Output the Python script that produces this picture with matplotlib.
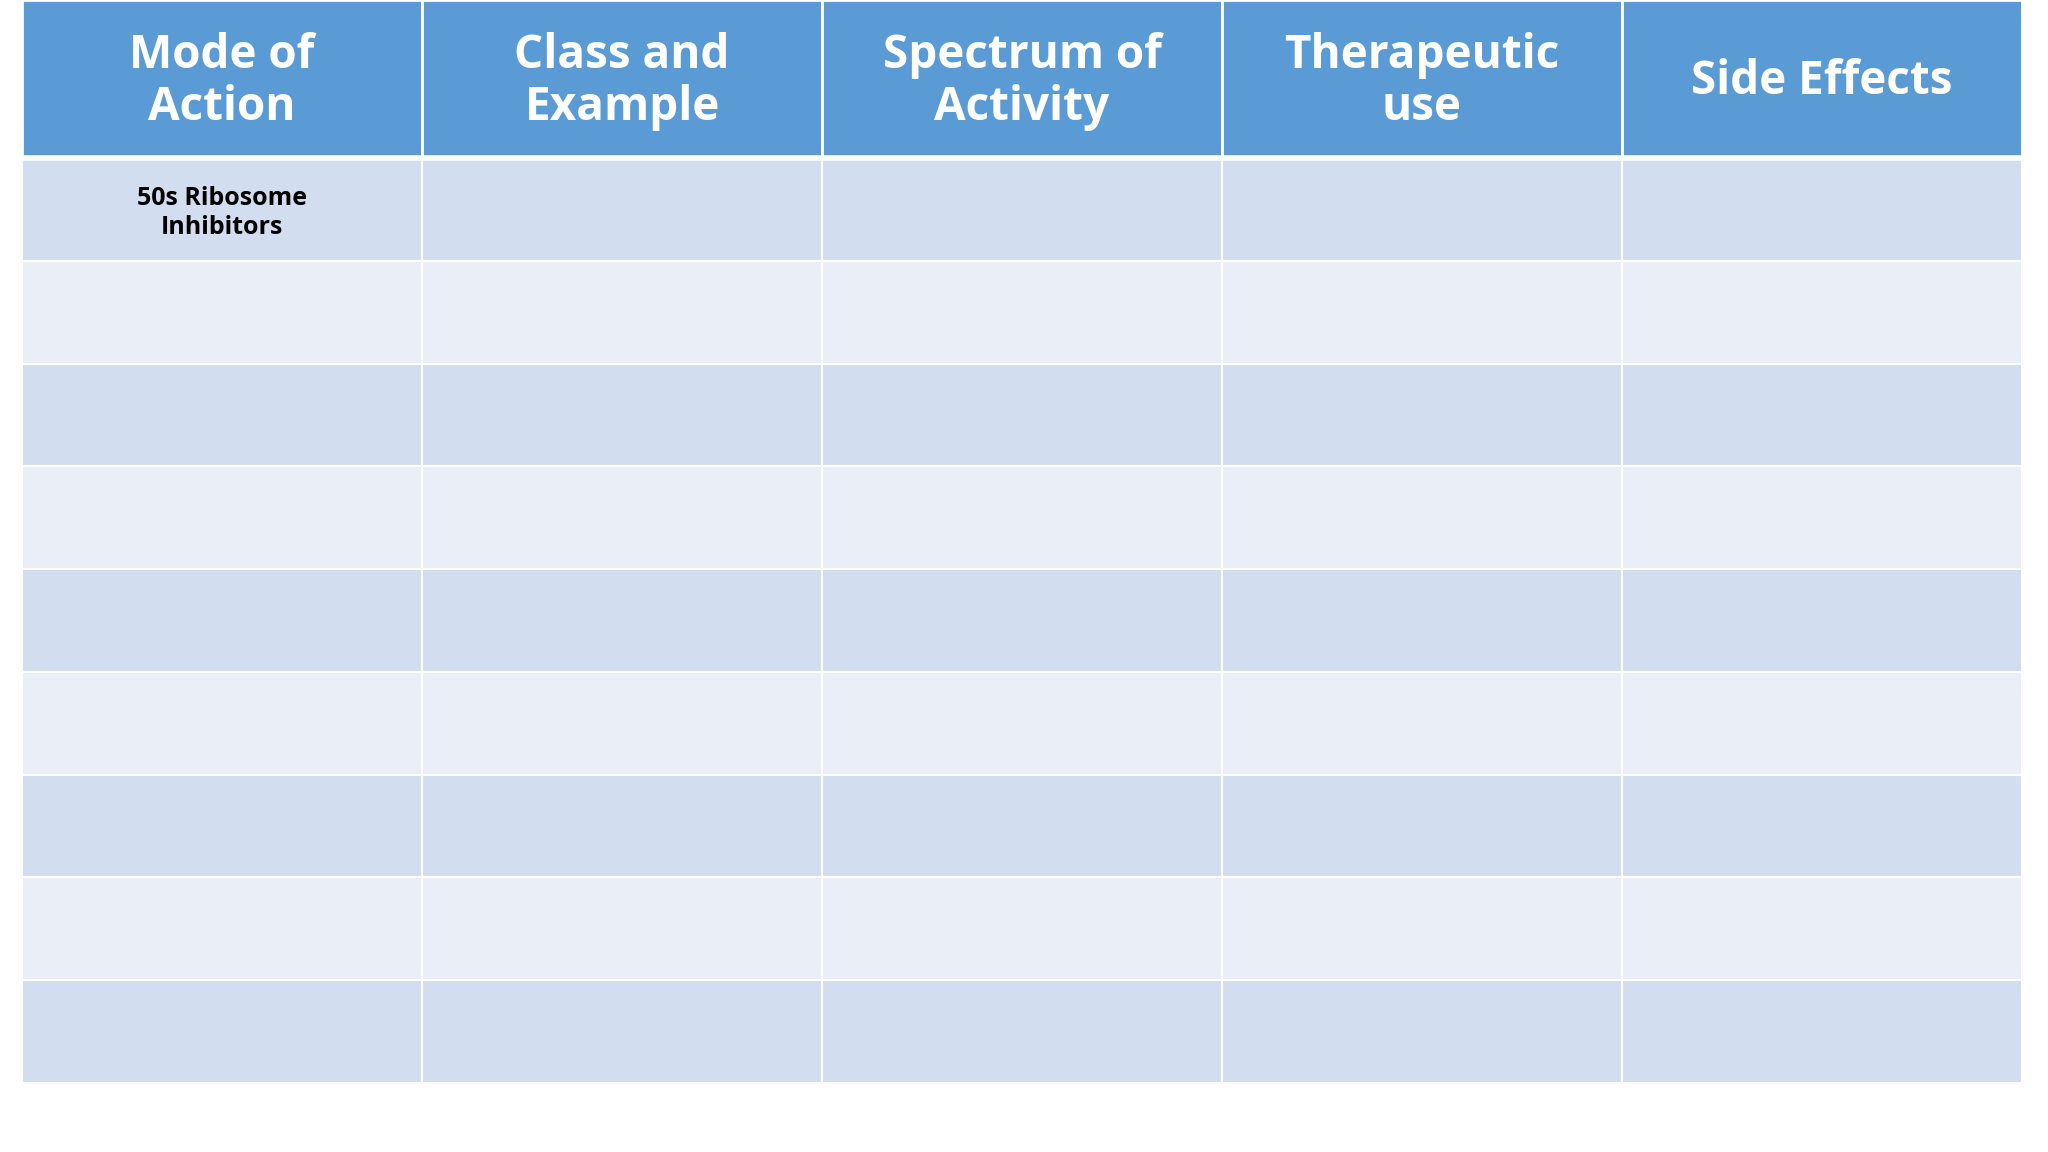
import matplotlib
matplotlib.use("Agg")
import matplotlib.pyplot as plt
from matplotlib.patches import Rectangle

headers = ["Mode of\nAction", "Class and\nExample", "Spectrum of\nActivity", "Therapeutic\nuse", "Side Effects"]
rows = [["50s Ribosome\nInhibitors", "", "", "", ""]] + [["", "", "", "", ""] for _ in range(8)]

header_color = "#5B9BD5"
row_colors = ["#D2DEEF", "#EAEFF7"]

W, H = 1568, 882
fig = plt.figure(figsize=(20.48, 11.52), dpi=100)
ax = fig.add_axes([0, 0, 1, 1])
ax.set_xlim(0, W)
ax.set_ylim(H, 0)
ax.axis("off")

x0, x1 = 17, 1548
header_bottom = 121
row_bottom = 829
ncol = len(headers)
cw = (x1 - x0) / ncol
rh = (row_bottom - header_bottom) / len(rows)

for j, h in enumerate(headers):
    ax.add_patch(Rectangle((x0 + j * cw, 0), cw, header_bottom, facecolor=header_color,
                           edgecolor="white", linewidth=2))
    ax.text(x0 + (j + 0.5) * cw, header_bottom / 2 + 2, h, ha="center", va="center",
            fontsize=33, fontweight="bold", color="white", family="Open Sans", linespacing=1.15)

for i, r in enumerate(rows):
    y = header_bottom + i * rh
    for j, v in enumerate(r):
        ax.add_patch(Rectangle((x0 + j * cw, y), cw, rh, facecolor=row_colors[i % 2],
                               edgecolor="white", linewidth=1.5))
        if v:
            ax.text(x0 + (j + 0.5) * cw, y + 42, v, ha="center", va="center",
                    fontsize=18, fontweight="bold", color="black", family="Open Sans",
                    linespacing=1.25)

ax.plot([x0, x1], [header_bottom, header_bottom], color="white", lw=4)
fig.savefig("out.png", dpi=100, facecolor="white")
